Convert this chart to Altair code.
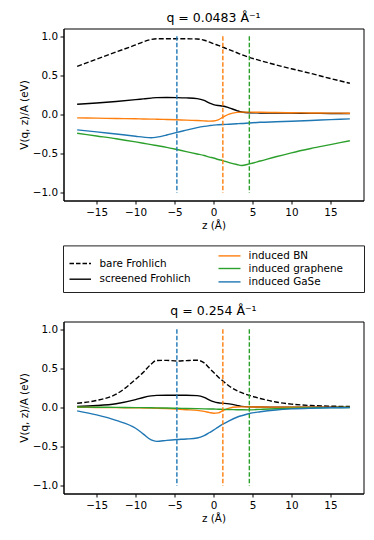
import altair as alt
import pandas as pd

# ---------------- data ----------------
z = [-17.5, -15, -12.5, -10, -9, -8, -7.3, -6, -4.7, -3.5, -2.1, -1.2, -0.5, 0,
     0.6, 1.2, 2, 3, 3.6, 4.6, 6, 8, 10, 12.5, 15, 17.5]

# q = 0.0483 1/A
top_bare = [0.615, 0.707, 0.80, 0.89, 0.93, 0.96, 0.968, 0.968, 0.968, 0.968, 0.966,
            0.95, 0.925, 0.905, 0.885, 0.86, 0.83, 0.79, 0.765, 0.73, 0.69, 0.635,
            0.585, 0.525, 0.46, 0.40]
top_screened = [0.131, 0.148, 0.167, 0.19, 0.20, 0.21, 0.216, 0.218, 0.216, 0.212, 0.203,
                0.18, 0.145, 0.127, 0.115, 0.108, 0.085, 0.05, 0.032, 0.022, 0.02, 0.018,
                0.017, 0.015, 0.013, 0.012]
top_bn = [-0.043, -0.047, -0.051, -0.055, -0.057, -0.059, -0.06, -0.064, -0.068, -0.072,
          -0.077, -0.081, -0.085, -0.083, -0.068, -0.035, 0.005, 0.027, 0.03, 0.03, 0.028,
          0.025, 0.022, 0.02, 0.018, 0.016]
top_graphene = [-0.24, -0.275, -0.31, -0.35, -0.367, -0.385, -0.397, -0.42, -0.448, -0.475,
                -0.505, -0.525, -0.545, -0.557, -0.575, -0.59, -0.615, -0.64, -0.652,
                -0.632, -0.595, -0.54, -0.49, -0.435, -0.385, -0.335]
top_gase = [-0.197, -0.222, -0.25, -0.278, -0.29, -0.298, -0.29, -0.262, -0.228, -0.2,
            -0.168, -0.152, -0.142, -0.136, -0.132, -0.128, -0.124, -0.118, -0.115, -0.108,
            -0.1, -0.093, -0.086, -0.076, -0.066, -0.056]

# q = 0.254 1/A
bot_bare = [0.055, 0.09, 0.17, 0.36, 0.45, 0.555, 0.602, 0.603, 0.595, 0.60, 0.605, 0.57,
            0.50, 0.45, 0.39, 0.34, 0.275, 0.215, 0.19, 0.155, 0.115, 0.07, 0.043, 0.025,
            0.017, 0.012]
bot_screened = [0.015, 0.025, 0.048, 0.10, 0.128, 0.148, 0.155, 0.157, 0.157, 0.157, 0.152,
                0.13, 0.095, 0.075, 0.06, 0.055, 0.047, 0.028, 0.014, 0.008, 0.006, 0.005,
                0.004, 0.003, 0.003, 0.002]
bot_bn = [0.002, 0.0, -0.002, -0.004, -0.006, -0.008, -0.01, -0.015, -0.021, -0.028, -0.037,
          -0.05, -0.065, -0.073, -0.068, -0.04, -0.008, 0.007, 0.008, 0.007, 0.006, 0.005,
          0.004, 0.003, 0.002, 0.002]
bot_graphene = [0.006, 0.004, 0.002, -0.001, -0.002, -0.004, -0.005, -0.007, -0.01, -0.012,
                -0.015, -0.017, -0.019, -0.02, -0.022, -0.024, -0.026, -0.028, -0.029, -0.03,
                -0.024, -0.016, -0.01, -0.005, -0.002, 0.0]
bot_gase = [-0.043, -0.095, -0.165, -0.265, -0.34, -0.415, -0.433, -0.42, -0.41, -0.403, -0.39,
            -0.36, -0.32, -0.29, -0.25, -0.213, -0.17, -0.125, -0.105, -0.077, -0.055, -0.032,
            -0.018, -0.009, -0.004, -0.002]

series = ["bare Frohlich", "screened Frohlich", "induced BN", "induced graphene", "induced GaSe"]
series_colors = ["black", "black", "#ff7f0e", "#2ca02c", "#1f77b4"]

layer_z = [-4.7, 1.2, 4.6]            # GaSe, BN, graphene layer positions
layer_colors = ["#1f77b4", "#ff7f0e", "#2ca02c"]
layer_top = [1.0, 1.0, 1.0]
layer_bottom = [-1.0, -1.0, -1.0]

titles = ["q = 0.0483 Å⁻¹", "q = 0.254 Å⁻¹"]
x_ticks = [-15, -10, -5, 0, 5, 10, 15]
y_ticks = [-1.0, -0.5, 0.0, 0.5, 1.0]

# ---------------- styling / layout ----------------
FONT = "DejaVu Sans"
FS = 10.4
W, H = 300, 172
DASH = [5, 2.2]
LW = 1.4

xscale = alt.Scale(domain=[-19.25, 19.25], nice=False, zero=False)
yscale = alt.Scale(domain=[-1.1, 1.1], nice=False, zero=False)


def panel(values, title, with_legend=False):
    layers = []
    for name, vals, col in zip(series, values, series_colors):
        df = pd.DataFrame({"z": z, "v": vals})
        kw = dict(color=col, strokeWidth=LW, interpolate="monotone")
        if name == "bare Frohlich":
            kw["strokeDash"] = DASH
        layers.append(
            alt.Chart(df).mark_line(**kw).encode(
                x=alt.X("z:Q", scale=xscale,
                        axis=alt.Axis(values=x_ticks, format="d", title="z (Å)")),
                y=alt.Y("v:Q", scale=yscale,
                        axis=alt.Axis(values=y_ticks, format=".1f", title="V(q, z)/A (eV)")),
            )
        )
    vdf = pd.DataFrame({"z": layer_z, "y1": layer_top, "y2": layer_bottom, "c": layer_colors})
    layers.append(
        alt.Chart(vdf).mark_rule(strokeWidth=LW, strokeDash=[4.5, 2]).encode(
            x=alt.X("z:Q", scale=xscale),
            y=alt.Y("y1:Q", scale=yscale),
            y2="y2:Q",
            color=alt.Color("c:N", scale=None),
        )
    )
    if with_legend:
        # legend box + entries (pixel layout relative to the plot area)
        box = pd.DataFrame({"x0": [0], "x1": [301], "y0": [217.4], "y1": [264]})
        layers.append(
            alt.Chart(box).mark_rect(fill="white", stroke="#222", strokeWidth=1).encode(
                x=alt.X("x0:Q", scale=None, axis=None), x2="x1:Q",
                y=alt.Y("y0:Q", scale=None, axis=None), y2="y1:Q",
            )
        )
        leg = pd.DataFrame({
            "label": series,
            "c": series_colors,
            "sx0": [6, 6, 155, 155, 155],
            "sx1": [27.5, 27.5, 177, 177, 177],
            "tx": [36, 36, 185, 185, 185],
            "ly": [235, 250.7, 227.4, 240, 253.4],
            "dashed": [True, False, False, False, False],
        })
        for dashed in [True, False]:
            sub = leg[leg["dashed"] == dashed]
            kw = dict(strokeWidth=LW)
            if dashed:
                kw["strokeDash"] = [4.5, 2]
            layers.append(
                alt.Chart(sub).mark_rule(**kw).encode(
                    x=alt.X("sx0:Q", scale=None, axis=None), x2="sx1:Q",
                    y=alt.Y("ly:Q", scale=None, axis=None),
                    color=alt.Color("c:N", scale=None),
                )
            )
        layers.append(
            alt.Chart(leg).mark_text(align="left", baseline="middle", font=FONT,
                                     fontSize=FS, color="black").encode(
                x=alt.X("tx:Q", scale=None, axis=None),
                y=alt.Y("ly:Q", scale=None, axis=None),
                text="label:N",
            )
        )
    return alt.layer(*layers).properties(
        width=W, height=H,
        title=alt.TitleParams(title, font=FONT, fontSize=12.5, fontWeight="normal",
                              anchor="middle", offset=4, color="black"),
    )


top = panel([top_bare, top_screened, top_bn, top_graphene, top_gase], titles[0], True)
bottom = panel([bot_bare, bot_screened, bot_bn, bot_graphene, bot_gase], titles[1])

chart = alt.vconcat(top, bottom, spacing=11).properties(
    padding={"left": 10.5, "top": 3.5, "right": 0, "bottom": 0}
).configure_view(
    stroke="black", strokeWidth=1
).configure_axis(
    grid=False, domainColor="black", domainWidth=1, tickColor="black", tickSize=3.5,
    tickWidth=1, labelFont=FONT, labelFontSize=FS, labelColor="black", labelPadding=2.5,
    titleFont=FONT, titleFontSize=FS, titleFontWeight="normal", titleColor="black",
    titlePadding=3,
).configure_axisX(labelPadding=3, titlePadding=3)

chart.save("out.html", embed_options={"renderer": "svg", "actions": False})
